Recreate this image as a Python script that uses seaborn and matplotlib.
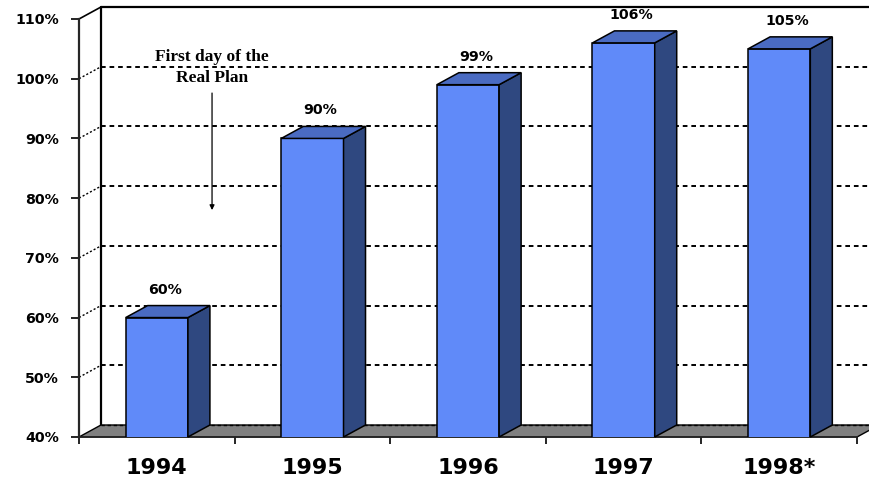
import matplotlib
matplotlib.use("Agg")
import matplotlib.pyplot as plt
from matplotlib.patches import Polygon
from matplotlib.ticker import FixedLocator
import seaborn as sns

# ---- data ----
years = ["1994", "1995", "1996", "1997", "1998*"]
values = [60, 90, 99, 106, 105]
value_labels = ["60%", "90%", "99%", "106%", "105%"]
y_ticks = [40, 50, 60, 70, 80, 90, 100, 110]
y_tick_labels = ["40%", "50%", "60%", "70%", "80%", "90%", "100%", "110%"]
note = "First day of the\nReal Plan"

sns.set_style("white")
plt.rcParams["font.family"] = ["DejaVu Sans"]
plt.rcParams["text.color"] = "black"
plt.rcParams["xtick.color"] = "black"
plt.rcParams["ytick.color"] = "black"
plt.rcParams["axes.labelcolor"] = "black"

FRONT = "#608AF9"
TOP = "#4A6BC2"
SIDE = "#2F4880"
FLOOR = "#808080"

W, H = 870, 482
fig = plt.figure(figsize=(W / 100, H / 100), dpi=100)
ax = fig.add_axes([79 / W, 45 / H, 778 / W, 418 / H])

ymin, ymax = 40, 110
xmin, xmax = -0.5, len(years) - 0.5
# depth offset (pixels -> data units)
px_x = (xmax - xmin) / 778
px_y = (ymax - ymin) / 418
DX = 22 * px_x
DY = 12 * px_y

sns.barplot(x=years, y=values, width=0.4, color=FRONT, saturation=1,
            edgecolor="black", linewidth=1.1, ax=ax, zorder=4)
bars = list(ax.patches)
ax.set_xlim(xmin, xmax)
ax.set_ylim(ymin, ymax)

dot = (0, (2.4, 2.0))
# back wall
ax.plot([xmin + DX, xmin + DX], [ymin + DY, ymax + DY], color="black", lw=1.6,
        clip_on=False, zorder=1)
ax.plot([xmin + DX, xmax + 2 * DX], [ymax + DY, ymax + DY], color="black", lw=1.6,
        clip_on=False, zorder=1)
ax.plot([xmin, xmin + DX], [ymax, ymax + DY], color="black", lw=1.2,
        clip_on=False, zorder=1)
for v in y_ticks[1:-1]:
    ax.plot([xmin + DX, xmax + 2 * DX], [v + DY, v + DY], color="black", lw=1.4,
            ls=dot, clip_on=False, zorder=1)
    ax.plot([xmin, xmin + DX], [v, v + DY], color="black", lw=1.0,
            ls=(0, (1.5, 1.5)), clip_on=False, zorder=1)

# floor
floor = Polygon([(xmin, ymin), (xmax, ymin), (xmax + DX, ymin + DY), (xmin + DX, ymin + DY)],
                closed=True, fc=FLOOR, ec="black", lw=1.0, clip_on=False, zorder=2)
ax.add_patch(floor)
ax.plot([xmin + DX, xmax + DX], [ymin + DY, ymin + DY], color="black", lw=1.0,
        ls=dot, clip_on=False, zorder=2.5)

# 3D faces of the bars, from the seaborn bars
for bar, lab in zip(bars, value_labels):
    x0 = bar.get_x()
    x1 = x0 + bar.get_width()
    top = bar.get_y() + bar.get_height()
    side = Polygon([(x1, ymin), (x1, top), (x1 + DX, top + DY), (x1 + DX, ymin + DY)],
                   closed=True, fc=SIDE, ec="black", lw=1.1, zorder=4, clip_on=False)
    topf = Polygon([(x0, top), (x1, top), (x1 + DX, top + DY), (x0 + DX, top + DY)],
                   closed=True, fc=TOP, ec="black", lw=1.1, zorder=4, clip_on=False)
    ax.add_patch(side)
    ax.add_patch(topf)
    ax.annotate(lab, xy=((x0 + x1) / 2, top), xytext=(8 * 0.72, 28 * 0.72),
                textcoords="offset points", ha="center", va="center",
                fontsize=10.2, fontweight="bold", zorder=6, annotation_clip=False)

# axes / ticks
for s in ["top", "right"]:
    ax.spines[s].set_visible(False)
ax.spines["left"].set_linewidth(1.6)
ax.spines["bottom"].set_linewidth(1.2)
ax.spines["left"].set_zorder(3)
ax.spines["bottom"].set_zorder(3)

ax.set_yticks(y_ticks)
ax.set_yticklabels(y_tick_labels)
ax.tick_params(axis="y", left=True, length=5.5, width=1.2, pad=9, labelsize=10.2,
               color="black", direction="out")
for t in ax.get_yticklabels():
    t.set_fontweight("bold")

ax.set_xticks(range(len(years)))
ax.set_xticklabels(years)
ax.xaxis.set_minor_locator(FixedLocator([i - 0.5 for i in range(len(years) + 1)]))
ax.tick_params(axis="x", which="major", bottom=True, length=0, pad=15, labelsize=16)
ax.tick_params(axis="x", which="minor", bottom=True, length=5, width=1.2,
               color="black", direction="out")
for t in ax.get_xticklabels():
    t.set_fontweight("bold")
ax.set_xlabel("")
ax.set_ylabel("")

# annotation
ax.text(0.355, 101.9, note, ha="center", va="center", fontsize=12.5,
        fontweight="bold", family=["Liberation Serif", "DejaVu Serif"],
        linespacing=1.45, zorder=6)
ax.annotate("", xy=(0.355, 78.0), xytext=(0.355, 97.6),
            arrowprops=dict(arrowstyle="-|>", lw=0.9, color="black", mutation_scale=7,
                            shrinkA=0, shrinkB=0), zorder=6)

fig.savefig("out.png", dpi=100)
